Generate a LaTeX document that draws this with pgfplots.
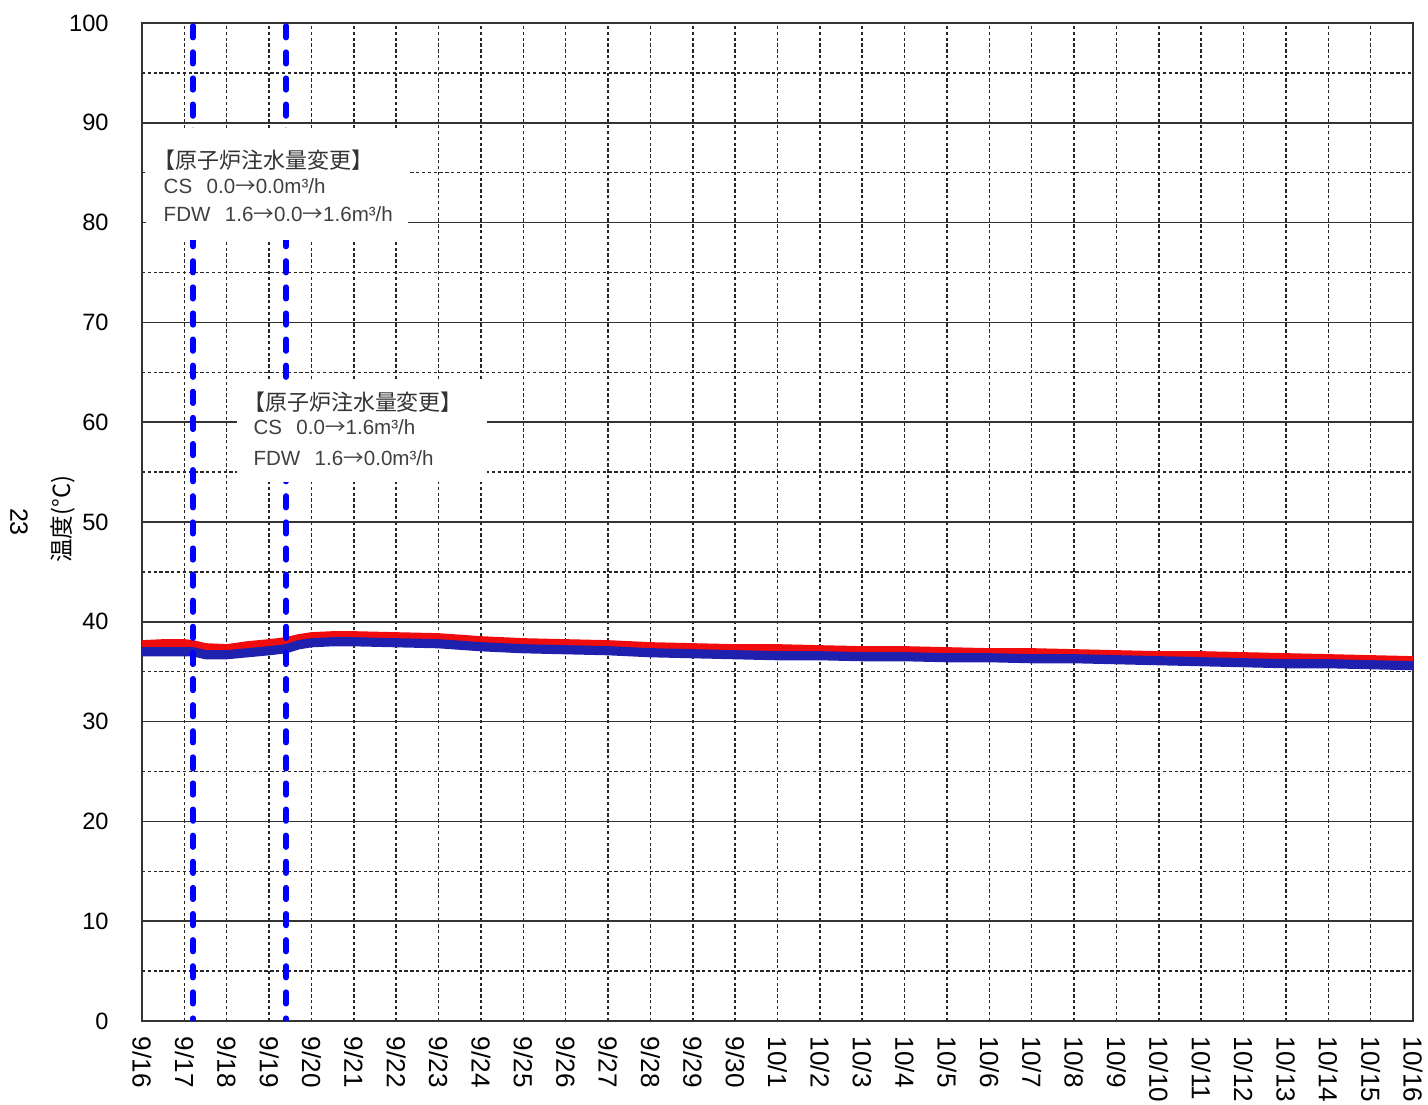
\documentclass[border=0pt]{standalone}
\usepackage{pgfplots}
\pgfplotsset{compat=1.18}
\usepackage{fontspec}
\setmainfont{Liberation Sans}
\newfontfamily\jp{Noto Sans CJK JP}

\definecolor{redline}{RGB}{240,12,12}
\definecolor{blueline}{RGB}{32,32,175}
\definecolor{vline}{RGB}{0,0,250}
\newcommand{\ar}{{\jp →}}

% days since 9/16 0:00, temperatures
\pgfplotstableread{
x     red   blue
0.0   37.7  37.0
0.5   37.8  37.0
1.0   37.8  37.0
1.2   37.7  37.0
1.5   37.4  36.7
2.0   37.3  36.7
2.5   37.6  36.9
3.0   37.8  37.1
3.4   38.0  37.3
3.7   38.3  37.7
4.0   38.5  37.9
4.5   38.6  38.0
5.0   38.6  38.0
6.0   38.5  37.9
7.0   38.4  37.8
8.0   38.1  37.5
9.0   37.9  37.3
10.0  37.8  37.2
11.0  37.7  37.1
12.0  37.5  36.9
13.0  37.4  36.8
14.0  37.3  36.7
15.0  37.3  36.6
16.0  37.2  36.6
17.0  37.1  36.5
18.0  37.1  36.5
19.0  37.0  36.4
20.0  36.9  36.4
21.0  36.9  36.3
22.0  36.8  36.3
23.0  36.7  36.2
24.0  36.6  36.1
25.0  36.6  36.0
26.0  36.5  35.9
27.0  36.4  35.8
28.0  36.3  35.8
29.0  36.2  35.7
30.0  36.1  35.6
}\temps

\begin{document}
\begin{tikzpicture}
\path[use as bounding box] (-51.12pt,-30.24pt) rectangle (462.96pt,367.56pt);
\begin{axis}[
    at={(0,0)}, anchor=south west,
    width=457.56pt, height=359.28pt, scale only axis,
    xmin=0, xmax=30, ymin=0, ymax=100,
    xtick={0,...,30},
    xticklabels={9/16,9/17,9/18,9/19,9/20,9/21,9/22,9/23,9/24,9/25,9/26,9/27,9/28,9/29,9/30,
        10/1,10/2,10/3,10/4,10/5,10/6,10/7,10/8,10/9,10/10,10/11,10/12,10/13,10/14,10/15,10/16},
    ytick={0,10,...,100},
    minor ytick={5,15,...,95},
    grid=both,
    major x grid style={black!85, dash pattern=on 1.2pt off 0.9pt, line width=0.55pt},
    major y grid style={black!80, line width=0.6pt},
    minor y grid style={black!85, dash pattern=on 1.2pt off 0.9pt, line width=0.55pt},
    major tick length=0pt, minor tick length=0pt,
    axis line style={black!80, line width=0.6pt},
    /pgf/number format/assume math mode=true,
    yticklabel style={font=\fontsize{8.5}{10}\selectfont, xshift=-8.5pt},
    xticklabel style={font=\fontsize{9.4}{10}\selectfont, rotate=-90, anchor=west, inner xsep=5.5pt},
]
\addplot[redline, line width=3.3pt, line join=round] table[x=x, y=red] {\temps};
\addplot[blueline, line width=3.3pt, line join=round] table[x=x, y=blue] {\temps};
\addplot[vline, line width=2pt, dash pattern=on 4.2pt off 5.2pt, line cap=round] coordinates {(1.2,99.7) (1.2,0)};
\addplot[vline, line width=2pt, dash pattern=on 4.2pt off 5.2pt, line cap=round] coordinates {(3.4,99.7) (3.4,0)};

\fill[white] (axis cs:0.09,89.5) rectangle (axis cs:6.28,78.3);
\fill[white] (axis cs:2.24,64.2) rectangle (axis cs:8.14,54.0);

\node[anchor=west, inner sep=0pt, text=black!80, font=\jp\fontsize{7.9}{9}\selectfont] at (axis cs:0.26,86.3) {【原子炉注水量変更】};
\node[anchor=west, inner sep=0pt, text=black!75, font=\fontsize{7.4}{9}\selectfont] at (axis cs:0.5,83.7) {CS\hspace{0.7em}0.0\ar0.0m³/h};
\node[anchor=west, inner sep=0pt, text=black!75, font=\fontsize{7.4}{9}\selectfont] at (axis cs:0.5,80.8) {FDW\hspace{0.7em}1.6\ar0.0\ar1.6m³/h};

\node[anchor=west, inner sep=0pt, text=black!80, font=\jp\fontsize{7.9}{9}\selectfont] at (axis cs:2.38,62.0) {【原子炉注水量変更】};
\node[anchor=west, inner sep=0pt, text=black!75, font=\fontsize{7.4}{9}\selectfont] at (axis cs:2.62,59.5) {CS\hspace{0.7em}0.0\ar1.6m³/h};
\node[anchor=west, inner sep=0pt, text=black!75, font=\fontsize{7.4}{9}\selectfont] at (axis cs:2.62,56.4) {FDW\hspace{0.7em}1.6\ar0.0m³/h};

\coordinate (ml) at (rel axis cs:0,0.5);
\end{axis}
\node[rotate=90, inner sep=0pt, font=\jp\fontsize{8.5}{10}\selectfont] at ([xshift=-28.4pt, yshift=1pt]ml) {温度(°C)};
\node[rotate=-90, inner sep=0pt, font=\fontsize{9}{10}\selectfont] at ([xshift=-44.3pt]ml) {23};
\end{tikzpicture}
\end{document}
